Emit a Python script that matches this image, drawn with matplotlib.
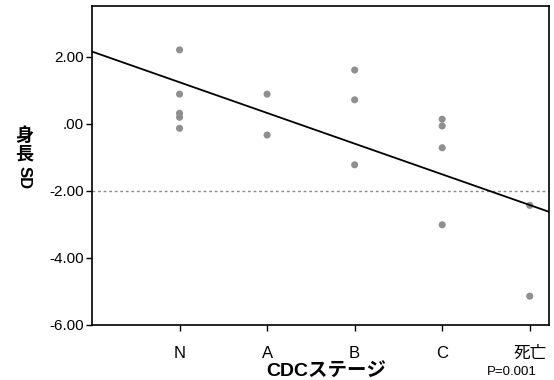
import matplotlib
matplotlib.use('Agg')
import matplotlib.pyplot as plt

plt.rcParams['font.family'] = ['Liberation Sans', 'Noto Sans CJK JP', 'DejaVu Sans']

# stages on the x axis (coded 1..5)
stages = ['N', 'A', 'B', 'C', '死亡']
stage_pos = [1, 2, 3, 4, 5]

# height SD per patient, grouped by stage
sd_N = [2.21, 0.89, 0.32, 0.20, -0.13]
sd_A = [0.89, -0.33]
sd_B = [1.61, 0.72, -1.22]
sd_C = [0.14, -0.06, -0.71, -3.01]
sd_death = [-2.43, -5.14]

# regression line
fit_intercept = 2.16
fit_slope = -0.916
cutoff = -2.0

yticks = [2, 0, -2, -4, -6]
ytick_labels = ['2.00', '.00', '-2.00', '-4.00', '-6.00']

W, H = 554, 380
fig = plt.figure(figsize=(W / 100, H / 100), dpi=100)
ax = fig.add_axes([92 / W, 1 - 325 / H, (549 - 92) / W, (325 - 6) / H])

groups = [sd_N, sd_A, sd_B, sd_C, sd_death]
for pos, vals in zip(stage_pos, groups):
    ax.scatter([pos] * len(vals), vals, s=26, color='#8f8f8f', edgecolors='none', zorder=3)

x0, x1 = 0, 5.22
ax.plot([x0, x1], [fit_intercept + fit_slope * x0, fit_intercept + fit_slope * x1],
        color='black', linewidth=1.3, zorder=4)
ax.axhline(cutoff, color='#8a8a8a', linewidth=1, linestyle=(0, (2, 2)), zorder=2)

ax.set_xlim(x0, x1)
ax.set_ylim(-6, 3.52)
ax.set_xticks(stage_pos)
ax.set_xticklabels(stages, fontsize=12)
ax.set_yticks(yticks)
ax.set_yticklabels(ytick_labels, fontsize=11)
ax.tick_params(direction='out', length=4, width=1, color='black')
ax.tick_params(axis='x', pad=11)
ax.tick_params(axis='y', pad=2)
for sp in ax.spines.values():
    sp.set_linewidth(1.2)
    sp.set_color('black')

# vertical y label: CJK upright, SD rotated
fig.text(24 / W, 1 - 136 / H, '身', fontsize=13, fontweight='bold', ha='center', va='center')
fig.text(24 / W, 1 - 155 / H, '長', fontsize=13, fontweight='bold', ha='center', va='center')
fig.text(24 / W, 1 - 178 / H, 'SD', fontsize=12, fontweight='bold', ha='center', va='center',
         rotation=-90)

fig.text(326 / W, 1 - 371 / H, 'CDCステージ', fontsize=14, fontweight='bold', ha='center', va='center')
fig.text(512 / W, 1 - 372 / H, 'P=0.001', fontsize=9.5, ha='center', va='center')

fig.savefig('out.png', dpi=100)
